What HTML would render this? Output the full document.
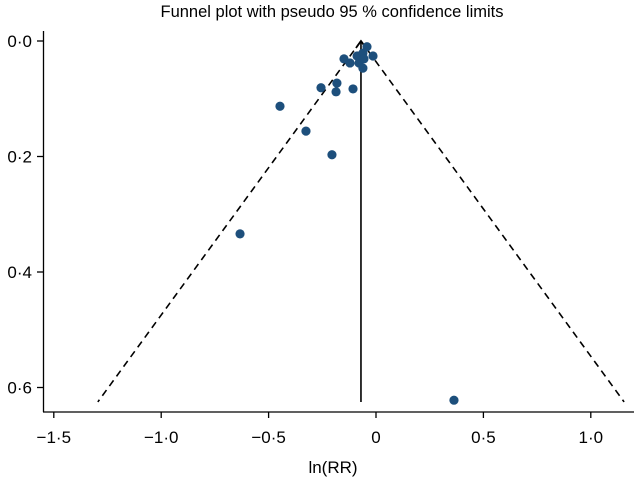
<!DOCTYPE html>
<html><head><meta charset="utf-8"><style>
body{margin:0;background:#fff;}
svg{display:block;font-family:"Liberation Sans",Arial,sans-serif;}
</style></head><body>
<svg id="chart" width="634" height="479"></svg>
<script>
const xValues=[-0.149,-0.121,-0.088,-0.079,-0.061,-0.042,-0.056,-0.014,-0.061,-0.182,-0.256,-0.186,-0.107,-0.447,-0.326,-0.205,-0.633,0.363];
const seValues=[0.031,0.038,0.026,0.038,0.021,0.010,0.031,0.026,0.047,0.073,0.081,0.088,0.083,0.113,0.156,0.197,0.334,0.622];
const xTicks=[-1.5,-1.0,-0.5,0,0.5,1.0];
const xTickLabels=["\u22121\u00b75","\u22121\u00b70","\u22120\u00b75","0","0\u00b75","1\u00b70"];
const yTicks=[0,0.2,0.4,0.6];
const yTickLabels=["0\u00b70","0\u00b72","0\u00b74","0\u00b76"];
const pooled=[-0.07];
const seMax=[0.625];

const NS="http://www.w3.org/2000/svg";
const svg=document.getElementById('chart');
const X=v=>376+v*214.8;
const Y=v=>41+v*577.5;
function el(t,a){const e=document.createElementNS(NS,t);for(const k in a)e.setAttribute(k,a[k]);svg.appendChild(e);return e;}

let t=el('text',{x:332,y:17,'text-anchor':'middle','font-size':16.5,fill:'#000'});
t.textContent='Funnel plot with pseudo 95 % confidence limits';



let a=el('line',{x1:43.5,y1:31,x2:43.5,y2:412,stroke:'#000','stroke-width':1.3});


a=el('line',{x1:43,y1:412,x2:634,y2:412,stroke:'#000','stroke-width':1.3});



yTicks.forEach((v,i)=>{
  const l=el('line',{x1:37,y1:Y(v),x2:43.5,y2:Y(v),stroke:'#000','stroke-width':1.3});
  
  
  const tx=el('text',{x:32,y:Y(v)+6,'text-anchor':'end','font-size':17});
  tx.textContent=yTickLabels[i];
  
  
});
xTicks.forEach((v,i)=>{
  const l=el('line',{x1:X(v),y1:412,x2:X(v),y2:418,stroke:'#000','stroke-width':1.3});
  
  
  const tx=el('text',{x:X(v),y:443,'text-anchor':'middle','font-size':17});
  tx.textContent=xTickLabels[i];
  
  
});
t=el('text',{x:X(0)-43,y:473,'text-anchor':'middle','font-size':17});
t.textContent='ln(RR)';



const p=pooled[0],s=seMax[0];
let f=el('line',{x1:X(p),y1:Y(0),x2:X(p-1.96*s),y2:Y(s),stroke:'#000','stroke-width':1.6,'stroke-dasharray':'7,5'});


f=el('line',{x1:X(p),y1:Y(0),x2:X(p+1.96*s),y2:Y(s),stroke:'#000','stroke-width':1.6,'stroke-dasharray':'7,5'});


f=el('line',{x1:X(p),y1:Y(0),x2:X(p),y2:Y(s),stroke:'#000','stroke-width':1.6});


f=el('polyline',{points:`${X(p)-5},${Y(0)+7} ${X(p)},${Y(0)} ${X(p)+5},${Y(0)+7}`,fill:'none',stroke:'#000','stroke-width':1.8});



xValues.forEach((v,i)=>{
  const c=el('circle',{cx:X(v),cy:Y(seValues[i]),r:4.6,fill:'#1d4f7c'});
  
  
});
</script>
</body></html>
